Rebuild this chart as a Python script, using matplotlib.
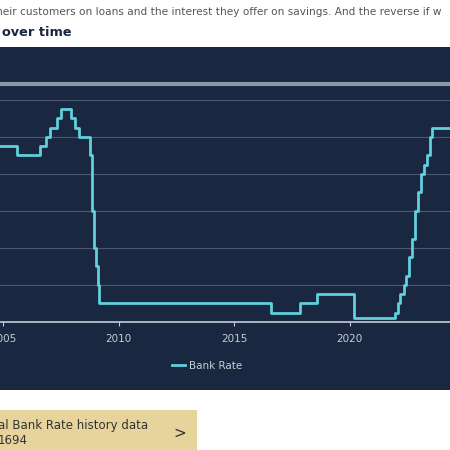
import matplotlib
matplotlib.use("Agg")
import matplotlib.pyplot as plt
import pandas as pd
from matplotlib.patches import Rectangle

change_dates = ["2004-08-05","2005-08-04","2006-08-03","2006-11-09","2007-01-11","2007-05-10",
    "2007-07-05","2007-12-06","2008-02-07","2008-04-10","2008-10-08","2008-11-06","2008-12-04",
    "2009-01-08","2009-02-05","2009-03-05","2016-08-04","2017-11-02","2018-08-02","2020-03-11",
    "2020-03-19","2021-12-16","2022-02-03","2022-03-17","2022-05-05","2022-06-16","2022-08-04",
    "2022-09-22","2022-11-03","2022-12-15","2023-02-02","2023-03-23","2023-05-11","2023-06-22",
    "2023-08-03","2024-06-30"]
bank_rate = [4.75,4.5,4.75,5.0,5.25,5.5,5.75,5.5,5.25,5.0,4.5,3.0,2.0,1.5,1.0,0.5,0.25,0.5,0.75,
    0.25,0.1,0.25,0.5,0.75,1.0,1.25,1.75,2.25,3.0,3.5,4.0,4.25,4.5,5.0,5.25,5.25]
year_ticks = [2005, 2010, 2015, 2020]
y_grid = [1, 2, 3, 4, 5, 6]

d = pd.to_datetime(change_dates)
x = d.year + (d.dayofyear - 1) / 365.25

fig = plt.figure(figsize=(4.5, 4.5), dpi=100)
fig.patch.set_facecolor("white")
navy = "#1a2740"
fig.patches.append(Rectangle((0, 1 - 390/450), 1, (390-47)/450, transform=fig.transFigure,
                             facecolor=navy, edgecolor="none", zorder=-5))
fig.patches.append(Rectangle((0, 0), 197/450, 40/450, transform=fig.transFigure,
                             facecolor="#e6d49c", edgecolor="none", zorder=-5))
fig.text(-0.01, 1 - 12/450, "heir customers on loans and the interest they offer on savings. And the reverse if w",
         fontsize=7.6, color="#555555", va="center", ha="left")
fig.text(0.005, 1 - 33/450, "over time", fontsize=9.3, fontweight="bold", color="#1a2740", va="center")
fig.text(-0.005, 1 - 425/450, "al Bank Rate history data", fontsize=8.5, color="#333333", va="center")
fig.text(-0.005, 1 - 441/450, "1694", fontsize=8.5, color="#333333", va="center")
fig.text(180/450, 1 - 433/450, ">", fontsize=11, color="#333333", va="center", ha="center")

ax = fig.add_axes([0, 1 - 322/450, 1, 238/450])
ax.patch.set_alpha(0)
ax.set_xlim(2004.87, 2024.35)
ax.set_ylim(0, 6.43)
for g in y_grid:
    ax.axhline(g, color="#4a5873", lw=0.8, zorder=1)
ax.step(x, bank_rate, where="post", color="#5fd0dc", lw=2, zorder=3, label="Bank Rate")
for s in ["left", "right"]:
    ax.spines[s].set_visible(False)
ax.spines["top"].set_color("#8d97a8")
ax.spines["top"].set_linewidth(3)
ax.spines["bottom"].set_color("#c8ccd4")
ax.spines["bottom"].set_linewidth(1.2)
ax.set_yticks([])
ax.set_xticks(year_ticks)
ax.set_xticklabels([str(t) for t in year_ticks])
ax.tick_params(axis="x", colors="#c8ccd4", labelcolor="#c8ccd4", labelsize=7.5, length=3, pad=6)
leg = fig.legend(loc="center", bbox_to_anchor=(0.46, 1 - 366/450), frameon=False,
                 fontsize=7.5, handlelength=1.3, handletextpad=0.4)
for t in leg.get_texts():
    t.set_color("#c8ccd4")
fig.savefig("out.png", dpi=100, facecolor="white")
